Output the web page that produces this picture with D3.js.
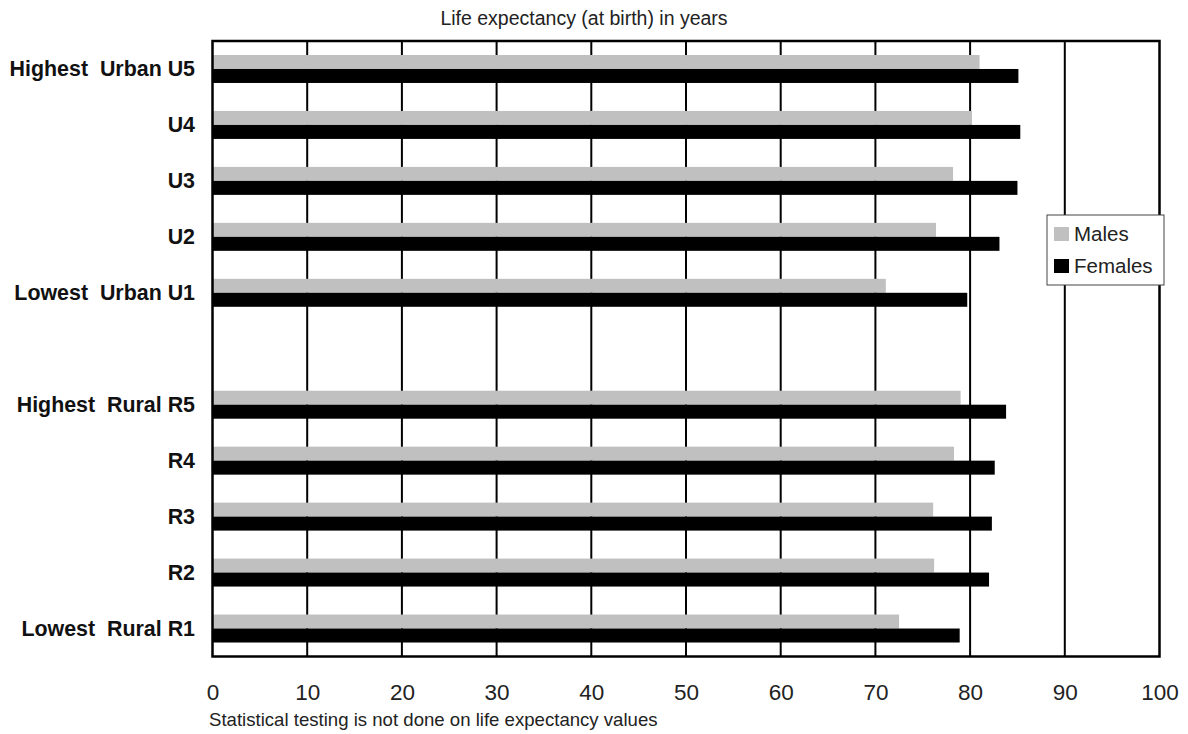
<!DOCTYPE html>
<html>
<head>
<meta charset="utf-8">
<script src="https://cdn.jsdelivr.net/npm/d3@7"></script>
<style>
  html, body { margin: 0; padding: 0; background: #fff; }
  svg { display: block; font-family: "Liberation Sans", Arial, Helvetica, sans-serif; }
</style>
</head>
<body>
<svg id="chart" width="1188" height="734"></svg>
<script>
const categories = ["Highest  Urban U5", "U4", "U3", "U2", "Lowest  Urban U1",
                    "Highest  Rural R5", "R4", "R3", "R2", "Lowest  Rural R1"];
const males   = [81.0, 80.2, 78.2, 76.4, 71.1, 79.0, 78.3, 76.1, 76.2, 72.5];
const females = [85.1, 85.3, 85.0, 83.1, 79.7, 83.8, 82.6, 82.3, 82.0, 78.9];
const seriesNames = ["Males", "Females"];
const seriesColors = ["#c0c0c0", "#000000"];
const xTicks = [0, 10, 20, 30, 40, 50, 60, 70, 80, 90, 100];
const title = "Life expectancy (at birth) in years";
const footnote = "Statistical testing is not done on life expectancy values";

(function () {
const svg = d3.select("#chart");
const pLeft = 212.5, pRight = 1159.5, pTop = 41, pBottom = 656.5;

// domain with a blank spacer between urban and rural groups
const domain = categories.slice(0, 5).concat(["__gap__"], categories.slice(5));
const y = d3.scaleBand().domain(domain).range([pTop, pBottom]).padding(0);
const yInner = d3.scaleBand().domain(seriesNames).range([0, y.bandwidth()])
  .paddingInner(0).paddingOuter(1);
const x = d3.scaleLinear().domain([0, 100]).range([pLeft, pRight]);

// gridlines
svg.append("g").selectAll("line").data(xTicks.filter(t => t > 0 && t < 100)).join("line")
  .attr("x1", d => x(d)).attr("x2", d => x(d))
  .attr("y1", pTop).attr("y2", pBottom)
  .attr("stroke", "#000").attr("stroke-width", 2);

// bars
const rows = categories.map((c, i) => ({ cat: c, vals: [males[i], females[i]] }));
const g = svg.append("g");
rows.forEach(r => {
  seriesNames.forEach((s, j) => {
    g.append("rect")
      .attr("x", x(0))
      .attr("y", y(r.cat) + yInner(s))
      .attr("width", x(r.vals[j]) - x(0))
      .attr("height", yInner.bandwidth())
      .attr("fill", seriesColors[j]);
  });
});

// frame
svg.append("rect").attr("x", pLeft).attr("y", pTop)
  .attr("width", pRight - pLeft).attr("height", pBottom - pTop)
  .attr("fill", "none").attr("stroke", "#000").attr("stroke-width", 2.5);

// category labels
svg.append("g").selectAll("text").data(categories).join("text")
  .attr("x", 195).attr("y", d => y(d) + y.bandwidth() / 2)
  .attr("dy", "0.35em")
  .attr("text-anchor", "end")
  .attr("font-weight", "bold").attr("font-size", 21.4)
  .attr("fill", "#111")
  .text(d => d.replace(/ /g, "\u00a0"));

// x tick labels
const xAxis = d3.axisBottom(x).tickValues(xTicks).tickSize(0).tickPadding(0).tickFormat(d3.format("d"));
const ax = svg.append("g").attr("transform", `translate(0, ${pBottom + 27.5})`).call(xAxis);
ax.select(".domain").remove();
ax.selectAll("text").attr("font-size", 22.5).attr("fill", "#222")
  .attr("font-family", "'Liberation Sans', Arial, sans-serif");

// title
svg.append("text").attr("x", 584).attr("y", 25).attr("text-anchor", "middle")
  .attr("font-size", 19.5).attr("fill", "#222").text(title);

// footnote
svg.append("text").attr("x", 209).attr("y", 726)
  .attr("font-size", 18.6).attr("fill", "#222").text(footnote);

// legend
const lg = svg.append("g").attr("transform", "translate(1047,215)");
lg.append("rect").attr("width", 117).attr("height", 70)
  .attr("fill", "#fff").attr("stroke", "#444").attr("stroke-width", 1);
seriesNames.forEach((s, j) => {
  lg.append("rect").attr("x", 7).attr("y", 12 + j * 32).attr("width", 15).attr("height", 14)
    .attr("fill", seriesColors[j]);
  lg.append("text").attr("x", 27).attr("y", 19 + j * 32).attr("dy", "0.35em")
    .attr("font-size", 20.5).attr("fill", "#222").text(s);
});
})();
</script>
</body>
</html>
